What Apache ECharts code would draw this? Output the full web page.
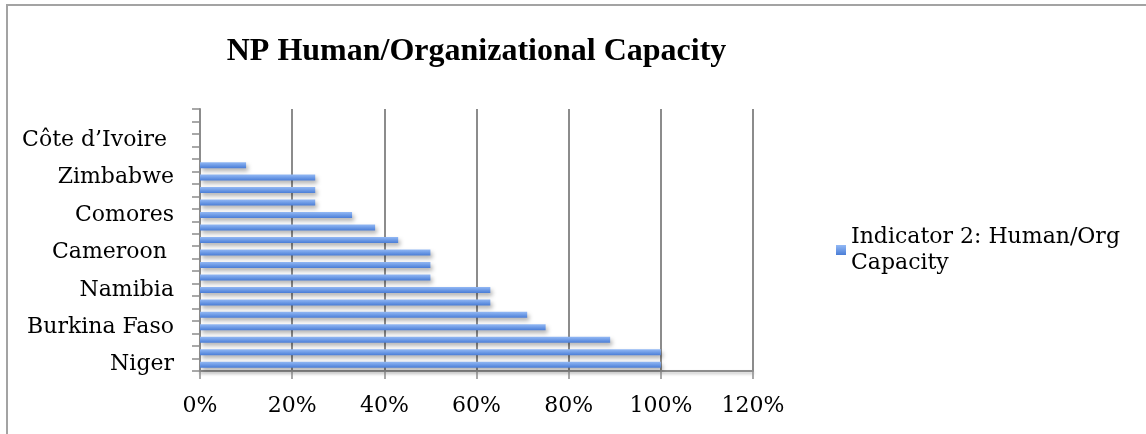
<!DOCTYPE html>
<html>
<head>
<meta charset="utf-8">
<script src="https://cdn.jsdelivr.net/npm/echarts@6/dist/echarts.min.js"></script>
<style>
  html, body { margin: 0; padding: 0; background: #fff; overflow: hidden; }
  #main { width: 1146px; height: 434px; }
  .frame {
    position: absolute; left: 6px; top: 4px; width: 1300px; height: 600px;
    border-top: 2px solid #a3a3a3; border-left: 2px solid #a3a3a3;
    pointer-events: none;
  }
</style>
</head>
<body>
<div id="main"></div>
<div class="frame"></div>
<script>
// categories listed bottom -> top, only every third one carries a label
const countries = ['Niger', '', '', 'Burkina Faso', '', '', 'Namibia', '', '', 'Cameroon ', '', '',
  'Comores', '', '', 'Zimbabwe', '', '', 'Côte d’Ivoire ', '', '']
const capacity = [100, 100, 89, 75, 71, 63, 63, 50, 50, 50, 43, 38, 33, 25, 25, 25, 10, null, null, null, null]
const xTicks = [0, 20, 40, 60, 80, 100, 120]

const titleText = 'NP Human/Organizational Capacity'
const seriesName = 'Indicator 2: Human/Org Capacity'
const serif = 'DejaVu Serif'
const titleFont = 'Liberation Serif'

// centre the title over the plot area (0% .. 120%)
let ctx = document.createElement('canvas').getContext('2d')
ctx.font = 'bold 32px "' + titleFont + '"'
let titleW = ctx.measureText(titleText).width
let plotLeft = 200, plotRight = 753

let chart = echarts.init(document.getElementById('main'), null, { renderer: 'canvas' })
let option = {
  animation: false,
  title: {
    text: titleText,
    left: (plotLeft + plotRight) / 2 - titleW / 2,
    top: 36,
    padding: 0,
    textStyle: { fontFamily: titleFont, fontWeight: 'bold', fontSize: 32, color: '#000' }
  },
  legend: {
    data: [seriesName],
    left: 836,
    top: 211,
    padding: 0,
    icon: 'rect',
    itemWidth: 10,
    itemHeight: 10,
    itemGap: 5,
    formatter: () => 'Indicator 2: Human/Org\nCapacity',
    textStyle: { fontFamily: serif, fontSize: 22, color: '#000', lineHeight: 26, padding: [26, 0, 0, 0] }
  },
  grid: { left: plotLeft, right: 1146 - plotRight, top: 109, bottom: 63 },
  xAxis: {
    type: 'value',
    min: 0,
    max: 120,
    interval: 20,
    axisLine: { show: true, lineStyle: { color: '#8c8c8c', width: 2, shadowColor: 'rgba(0,0,0,0.25)', shadowBlur: 3, shadowOffsetY: 2 } },
    axisTick: { show: true, length: 8, lineStyle: { color: '#8c8c8c', width: 1.5 } },
    axisLabel: {
      margin: 24,
      fontFamily: serif,
      fontSize: 22,
      color: '#000',
      formatter: v => xTicks.includes(v) ? v + '%' : ''
    },
    splitLine: { show: true, lineStyle: { color: '#8c8c8c', width: 2 } }
  },
  yAxis: {
    type: 'category',
    data: countries,
    axisLine: { show: true, lineStyle: { color: '#8c8c8c', width: 2 } },
    axisTick: { show: true, length: 8, lineStyle: { color: '#8c8c8c', width: 1.5 } },
    axisLabel: { interval: 0, margin: 26, fontFamily: serif, fontSize: 22, color: '#000' }
  },
  series: [{
    name: seriesName,
    type: 'bar',
    data: capacity,
    barWidth: 6,
    itemStyle: {
      color: new echarts.graphic.LinearGradient(0, 0, 0, 1, [
        { offset: 0, color: '#93b9f5' },
        { offset: 0.5, color: '#6e9be6' },
        { offset: 1, color: '#4a7dd6' }
      ]),
      shadowColor: 'rgba(0,0,0,0.3)',
      shadowBlur: 4,
      shadowOffsetX: 2,
      shadowOffsetY: 3
    }
  }]
}
chart.setOption(option)
</script>
</body>
</html>
